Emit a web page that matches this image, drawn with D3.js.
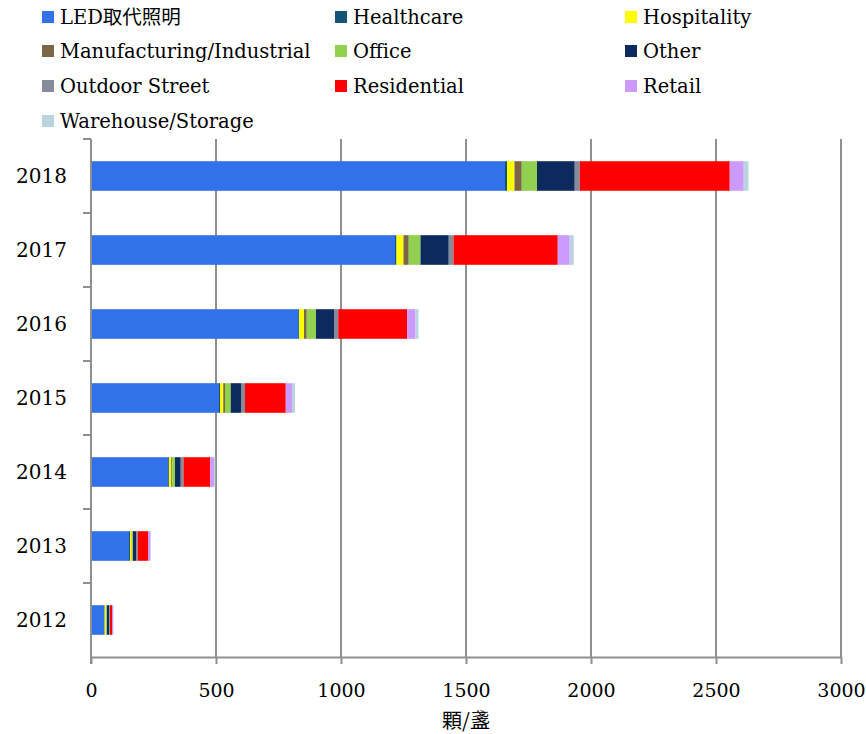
<!DOCTYPE html>
<html>
<head>
<meta charset="utf-8">
<script src="https://cdn.jsdelivr.net/npm/d3@7"></script>
<style>
  body { margin: 0; background: #fff; }
</style>
</head>
<body>
<div id="chart"></div>
<script>
// years, top to bottom
var years = ['2018', '2017', '2016', '2015', '2014', '2013', '2012'];

var seriesNames = ['LED取代照明', 'Healthcare', 'Hospitality', 'Manufacturing/Industrial', 'Office',
    'Other', 'Outdoor Street', 'Residential', 'Retail', 'Warehouse/Storage'];

var seriesColors = ['#3172e8', '#165374', '#ffff00', '#7b6748', '#92d050',
    '#0c2a5d', '#858b99', '#ff0000', '#cc99ff', '#b9d3df'];

// values per series, same order as years
var ledValues         = [1656, 1216, 829, 512, 309, 152, 54];
var healthcareValues  = [8, 6, 4, 4, 3, 4, 1];
var hospitalityValues = [30, 28, 19, 13, 9, 7, 5];
var manufacturingValues = [29, 21, 11, 7, 4, 3, 2];
var officeValues      = [61, 47, 37, 23, 11, 2, 2];
var otherValues       = [151, 113, 72, 41, 23, 12, 9];
var outdoorValues     = [20, 19, 17, 16, 11, 7, 3];
var residentialValues = [600, 417, 276, 163, 107, 41, 8];
var retailValues      = [56, 48, 33, 25, 16, 10, 5];
var warehouseValues   = [19, 16, 12, 12, 4, 2, 1];

var xTicks = [0, 500, 1000, 1500, 2000, 2500, 3000];

var allValues = [ledValues, healthcareValues, hospitalityValues, manufacturingValues, officeValues,
    otherValues, outdoorValues, residentialValues, retailValues, warehouseValues];

var table = years.map(function(y, i) {
    var row = { year: y };
    seriesNames.forEach(function(s, j) { row[s] = allValues[j][i]; });
    return row;
});

var width = 866, height = 734;
var margin = { top: 139, left: 91, right: 25, bottom: 77 };
var serif = '"DejaVu Serif", "Noto Sans CJK TC", serif';

var svg = d3.select('#chart').append('svg')
    .attr('width', width)
    .attr('height', height);

var x = d3.scaleLinear()
    .domain([0, 3000])
    .range([margin.left, width - margin.right]);

var y = d3.scaleBand()
    .domain(years)
    .range([margin.top, height - margin.bottom])
    .paddingInner(0.6)
    .paddingOuter(0.3);

var color = d3.scaleOrdinal().domain(seriesNames).range(seriesColors);

var stack = d3.stack().keys(seriesNames);
var layers = stack(table);

// grid lines
svg.append('g')
    .selectAll('line')
    .data(xTicks.slice(1))
    .enter().append('line')
    .attr('x1', function(d) { return x(d); })
    .attr('x2', function(d) { return x(d); })
    .attr('y1', margin.top)
    .attr('y2', height - margin.bottom)
    .attr('stroke', '#8f8f8f')
    .attr('stroke-width', 2);

// bars
svg.append('g')
    .selectAll('g')
    .data(layers)
    .enter().append('g')
    .attr('fill', function(d) { return color(d.key); })
    .selectAll('rect')
    .data(function(d) { return d; })
    .enter().append('rect')
    .attr('x', function(d) { return x(d[0]); })
    .attr('y', function(d) { return y(d.data.year); })
    .attr('width', function(d) { return x(d[1]) - x(d[0]); })
    .attr('height', y.bandwidth());

// x axis
var xAxis = svg.append('g')
    .attr('transform', 'translate(0,' + (height - margin.bottom) + ')')
    .call(d3.axisBottom(x).tickValues(xTicks).tickFormat(d3.format('d'))
        .tickSize(7).tickPadding(20).tickSizeOuter(0));
xAxis.select('.domain').attr('stroke', '#8f8f8f').attr('stroke-width', 2);
xAxis.selectAll('.tick line').attr('stroke', '#8f8f8f').attr('stroke-width', 2);
xAxis.selectAll('text').style('font-size', '19px').style('font-family', serif).attr('fill', '#000');

// y axis with ticks at band boundaries
var step = y.step();
var bounds = d3.range(years.length + 1).map(function(i) { return margin.top + i * step; });
svg.append('line')
    .attr('x1', x(0)).attr('x2', x(0))
    .attr('y1', margin.top).attr('y2', height - margin.bottom + 7)
    .attr('stroke', '#8f8f8f').attr('stroke-width', 2);
svg.append('g')
    .selectAll('line')
    .data(bounds.slice(0, -1))
    .enter().append('line')
    .attr('x1', x(0) - 8).attr('x2', x(0))
    .attr('y1', function(d) { return d; })
    .attr('y2', function(d) { return d; })
    .attr('stroke', '#8f8f8f').attr('stroke-width', 2);
svg.append('g')
    .selectAll('text')
    .data(years)
    .enter().append('text')
    .attr('x', 67)
    .attr('y', function(d) { return y(d) + y.bandwidth() / 2; })
    .attr('dy', '0.35em')
    .attr('text-anchor', 'end')
    .style('font-family', serif)
    .style('font-size', '20px')
    .text(function(d) { return d; });

// axis title
svg.append('text')
    .attr('x', (x(0) + x(3000)) / 2)
    .attr('y', 728)
    .attr('text-anchor', 'middle')
    .style('font-family', '"Noto Sans CJK TC", serif')
    .style('font-size', '20px')
    .text('顆/盞');

// legend
var legendCols = [42, 335, 625];
var legendRows = [17, 51, 86, 121];
var legend = svg.append('g')
    .selectAll('g')
    .data(seriesNames)
    .enter().append('g')
    .attr('transform', function(d, i) {
        return 'translate(' + legendCols[i % 3] + ',' + legendRows[Math.floor(i / 3)] + ')';
    });
legend.append('rect')
    .attr('x', 0).attr('y', -6)
    .attr('width', 12).attr('height', 12)
    .attr('fill', function(d) { return color(d); });
legend.append('text')
    .attr('x', 18)
    .attr('dy', '0.35em')
    .style('font-family', serif)
    .style('font-size', '19.5px')
    .text(function(d) { return d; });
</script>
</body>
</html>
